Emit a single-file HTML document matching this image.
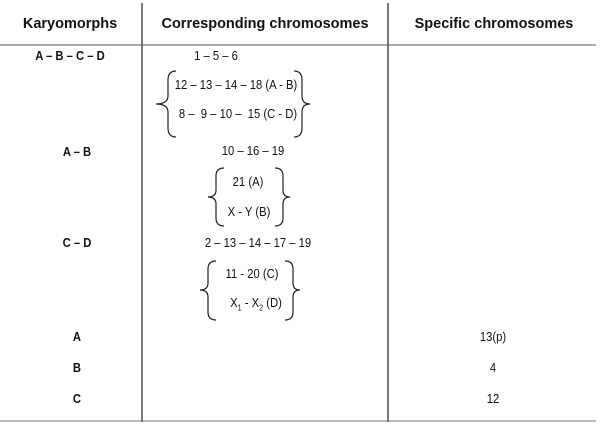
<!DOCTYPE html>
<html><head><meta charset="utf-8"><style>
body{margin:0;width:600px;height:432px;background:#fff;position:relative;overflow:hidden;font-family:"Liberation Sans",sans-serif;color:#111}
.t{position:absolute;transform:translate(-50%,-50%) scaleX(0.9);white-space:nowrap;font-size:12.5px}
.h{font-weight:bold;font-size:14.5px;transform:translate(-50%,-50%)}
.b{font-weight:bold;font-size:12.5px}
svg{position:absolute;left:0;top:0}
</style></head><body>
<svg width="600" height="432">
<line x1="142" y1="3" x2="142" y2="422" stroke="#333" stroke-width="1.3"/>
<line x1="388" y1="3" x2="388" y2="422" stroke="#333" stroke-width="1.3"/>
<line x1="0" y1="45" x2="596" y2="45" stroke="#555" stroke-width="1"/>
<line x1="0" y1="421" x2="596" y2="421" stroke="#777" stroke-width="1"/>
<g fill="none" stroke="#222" stroke-width="1.2">
<path d="M176,71 Q168,71 168,80 L168,96 Q168,104 156,104 Q168,104 168,112 L168,128 Q168,137 176,137"/>
<path d="M294,71 Q302,71 302,80 L302,96 Q302,104 310,104 Q302,104 302,112 L302,128 Q302,137 294,137"/>
<path d="M224,168 Q216,168 216,176 L216,190 Q216,197 208,197 Q216,197 216,204 L216,218 Q216,226 224,226"/>
<path d="M275,168 Q283,168 283,176 L283,190 Q283,197 290,197 Q283,197 283,204 L283,218 Q283,226 275,226"/>
<path d="M216,261 Q208,261 208,269 L208,283 Q208,290 200,290 Q208,290 208,297 L208,312 Q208,320 216,320"/>
<path d="M285,261 Q293,261 293,269 L293,283 Q293,290 300,290 Q293,290 293,297 L293,312 Q293,320 285,320"/>
</g></svg>
<div class="t h" style="left:70px;top:24px">Karyomorphs</div>
<div class="t h" style="left:265px;top:24px">Corresponding chromosomes</div>
<div class="t h" style="left:494px;top:24px">Specific chromosomes</div>

<div class="t b" style="left:70px;top:56px">A – B – C – D</div>
<div class="t" style="left:216px;top:56px">1 – 5 – 6</div>
<div class="t" style="left:236px;top:85px">12 – 13 – 14 – 18 (A - B)</div>
<div class="t" style="left:238px;top:114px">8 –&nbsp; 9 – 10 –&nbsp; 15 (C - D)</div>

<div class="t b" style="left:77px;top:152px">A – B</div>
<div class="t" style="left:253px;top:151px">10 – 16 – 19</div>
<div class="t" style="left:248px;top:182px">21 (A)</div>
<div class="t" style="left:249px;top:212px">X - Y (B)</div>

<div class="t b" style="left:77px;top:243px">C – D</div>
<div class="t" style="left:258px;top:243px">2 – 13 – 14 – 17 – 19</div>
<div class="t" style="left:252px;top:274px">11 - 20 (C)</div>
<div class="t" style="left:256px;top:304px">X<sub style="font-size:8px">1</sub> - X<sub style="font-size:8px">2</sub> (D)</div>

<div class="t b" style="left:77px;top:337px">A</div>
<div class="t" style="left:493px;top:337px">13(p)</div>
<div class="t b" style="left:77px;top:368px">B</div>
<div class="t" style="left:493px;top:368px">4</div>
<div class="t b" style="left:77px;top:399px">C</div>
<div class="t" style="left:493px;top:399px">12</div>
</body></html>
